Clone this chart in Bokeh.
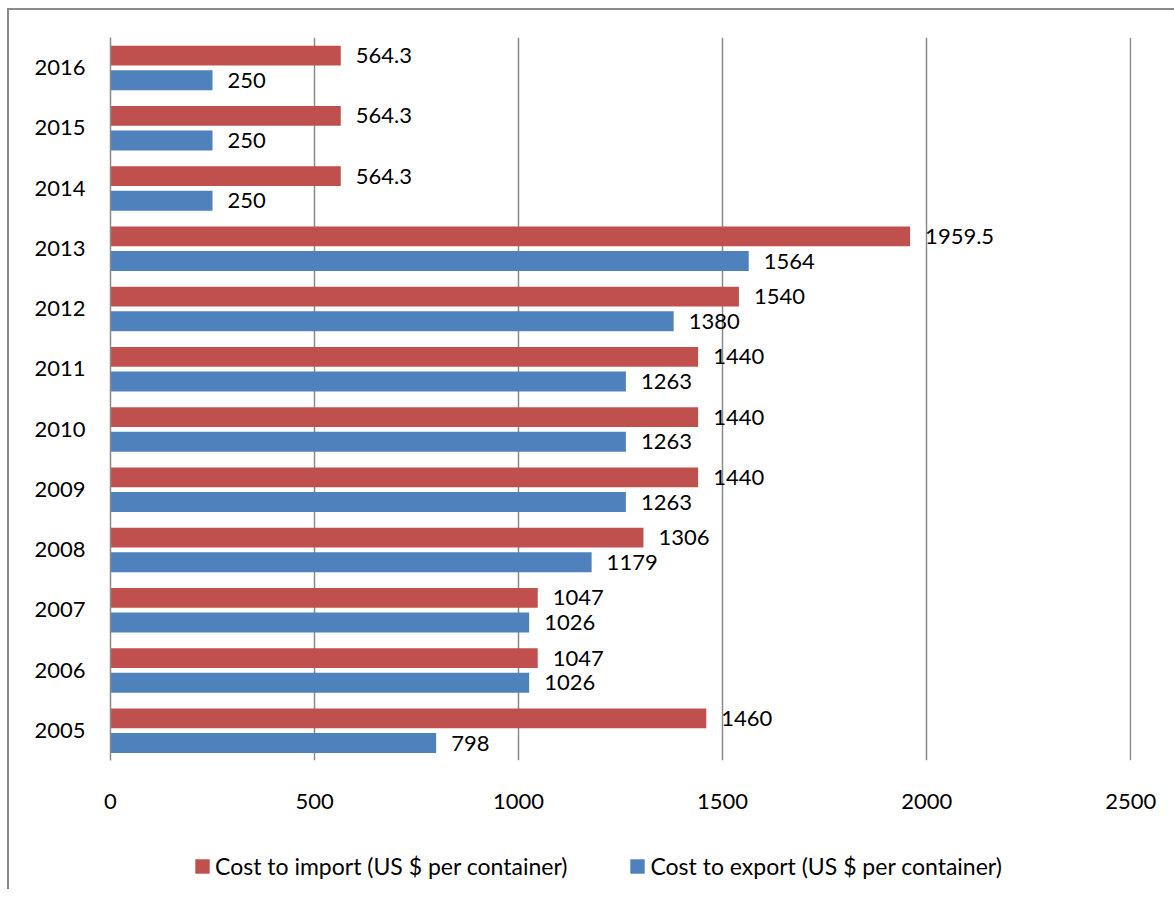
from bokeh.plotting import figure
from bokeh.layouts import column
from bokeh.models import (Range1d, FactorRange, FixedTicker, Legend, LegendItem,
                          ColumnDataSource)
from bokeh.transform import dodge
from bokeh.core.properties import value
from bokeh.embed import file_html
from bokeh.resources import INLINE

years = ["2005", "2006", "2007", "2008", "2009", "2010", "2011", "2012", "2013", "2014", "2015", "2016"]
import_cost = [1460, 1047, 1047, 1306, 1440, 1440, 1440, 1540, 1959.5, 564.3, 564.3, 564.3]
export_cost = [798, 1026, 1026, 1179, 1263, 1263, 1263, 1380, 1564, 250, 250, 250]
import_labels = ["1460", "1047", "1047", "1306", "1440", "1440", "1440", "1540", "1959.5", "564.3", "564.3", "564.3"]
export_labels = ["798", "1026", "1026", "1179", "1263", "1263", "1263", "1380", "1564", "250", "250", "250"]
x_ticks = [0, 500, 1000, 1500, 2000, 2500]

RED = "#C0504D"
BLUE = "#4F81BD"
GRID = "#8A8A8A"
FONT = "Lato"
FS = "22px"
LFS = "23px"

src = ColumnDataSource(dict(year=years, imp=import_cost, exp=export_cost,
                            imp_lab=import_labels, exp_lab=export_labels))

p = figure(y_range=FactorRange(*years), x_range=Range1d(0, 2502),
           frame_width=1021, frame_height=723,
           min_border_left=101, min_border_right=43, min_border_top=27, min_border_bottom=80,
           output_backend="svg", toolbar_location=None)
p.outline_line_color = None
p.background_fill_color = "white"
p.border_fill_color = "white"

p.hbar(y=dodge("year", 0.2, range=p.y_range), right="imp", left=0, height=0.33,
       source=src, fill_color=RED, line_color=None)
p.hbar(y=dodge("year", -0.21, range=p.y_range), right="exp", left=0, height=0.33,
       source=src, fill_color=BLUE, line_color=None)

p.text(x="imp", y=dodge("year", 0.2, range=p.y_range), text="imp_lab", source=src,
       x_offset=15, text_baseline="middle", text_align="left",
       text_font=value(FONT), text_font_size=FS, text_color="black")
p.text(x="exp", y=dodge("year", -0.21, range=p.y_range), text="exp_lab", source=src,
       x_offset=15, text_baseline="middle", text_align="left",
       text_font=value(FONT), text_font_size=FS, text_color="black")

# axes
p.xaxis.ticker = FixedTicker(ticks=x_ticks)
p.xaxis.axis_line_color = None
p.xaxis.major_tick_line_color = None
p.xaxis.minor_tick_line_color = None
p.xaxis.major_label_standoff = 27
p.xaxis.major_label_text_font = FONT
p.xaxis.major_label_text_font_size = FS
p.xaxis.major_label_text_color = "black"

p.yaxis.axis_line_color = GRID
p.yaxis.axis_line_width = 1.5
p.yaxis.major_tick_line_color = None
p.yaxis.minor_tick_line_color = None
p.yaxis.major_label_standoff = 19
p.yaxis.major_label_text_font = FONT
p.yaxis.major_label_text_font_size = FS
p.yaxis.major_label_text_color = "black"

p.xgrid.ticker = FixedTicker(ticks=x_ticks)
p.xgrid.grid_line_color = GRID
p.xgrid.grid_line_width = 1.5
p.ygrid.grid_line_color = None

# legend strip: hidden renderers, only their legend entries are shown
q = figure(width=1165, height=49, x_range=Range1d(-10, -5), y_range=FactorRange(*years),
           x_axis_location=None, y_axis_location=None, min_border=0,
           output_backend="svg", toolbar_location=None)
q.outline_line_color = None
q.grid.grid_line_color = None
q.background_fill_color = "white"
q.border_fill_color = "white"
l_imp = q.hbar(y="year", right="imp", left=0, height=0.33, source=src,
               fill_color=RED, line_color=None, visible=False)
l_exp = q.hbar(y="year", right="exp", left=0, height=0.33, source=src,
               fill_color=BLUE, line_color=None, visible=False)

legend = Legend(items=[LegendItem(label="Cost to import (US $ per container)", renderers=[l_imp]),
                       LegendItem(label="Cost to export (US $ per container)", renderers=[l_exp])],
                orientation="horizontal", location=(83, 9),
                glyph_width=18, glyph_height=18, label_standoff=4, spacing=61,
                label_text_font=FONT, label_text_font_size=LFS, label_text_color="black",
                border_line_color=None, background_fill_alpha=0,
                inactive_fill_alpha=0,
                margin=0, padding=5)
q.add_layout(legend, "center")

layout = column(p, q, spacing=0)
layout.styles = {"border-left": f"2px solid {GRID}", "border-top": f"2px solid {GRID}",
                 "margin-left": "7px", "margin-top": "8px"}

open("out.html", "w").write(file_html(layout, INLINE))
